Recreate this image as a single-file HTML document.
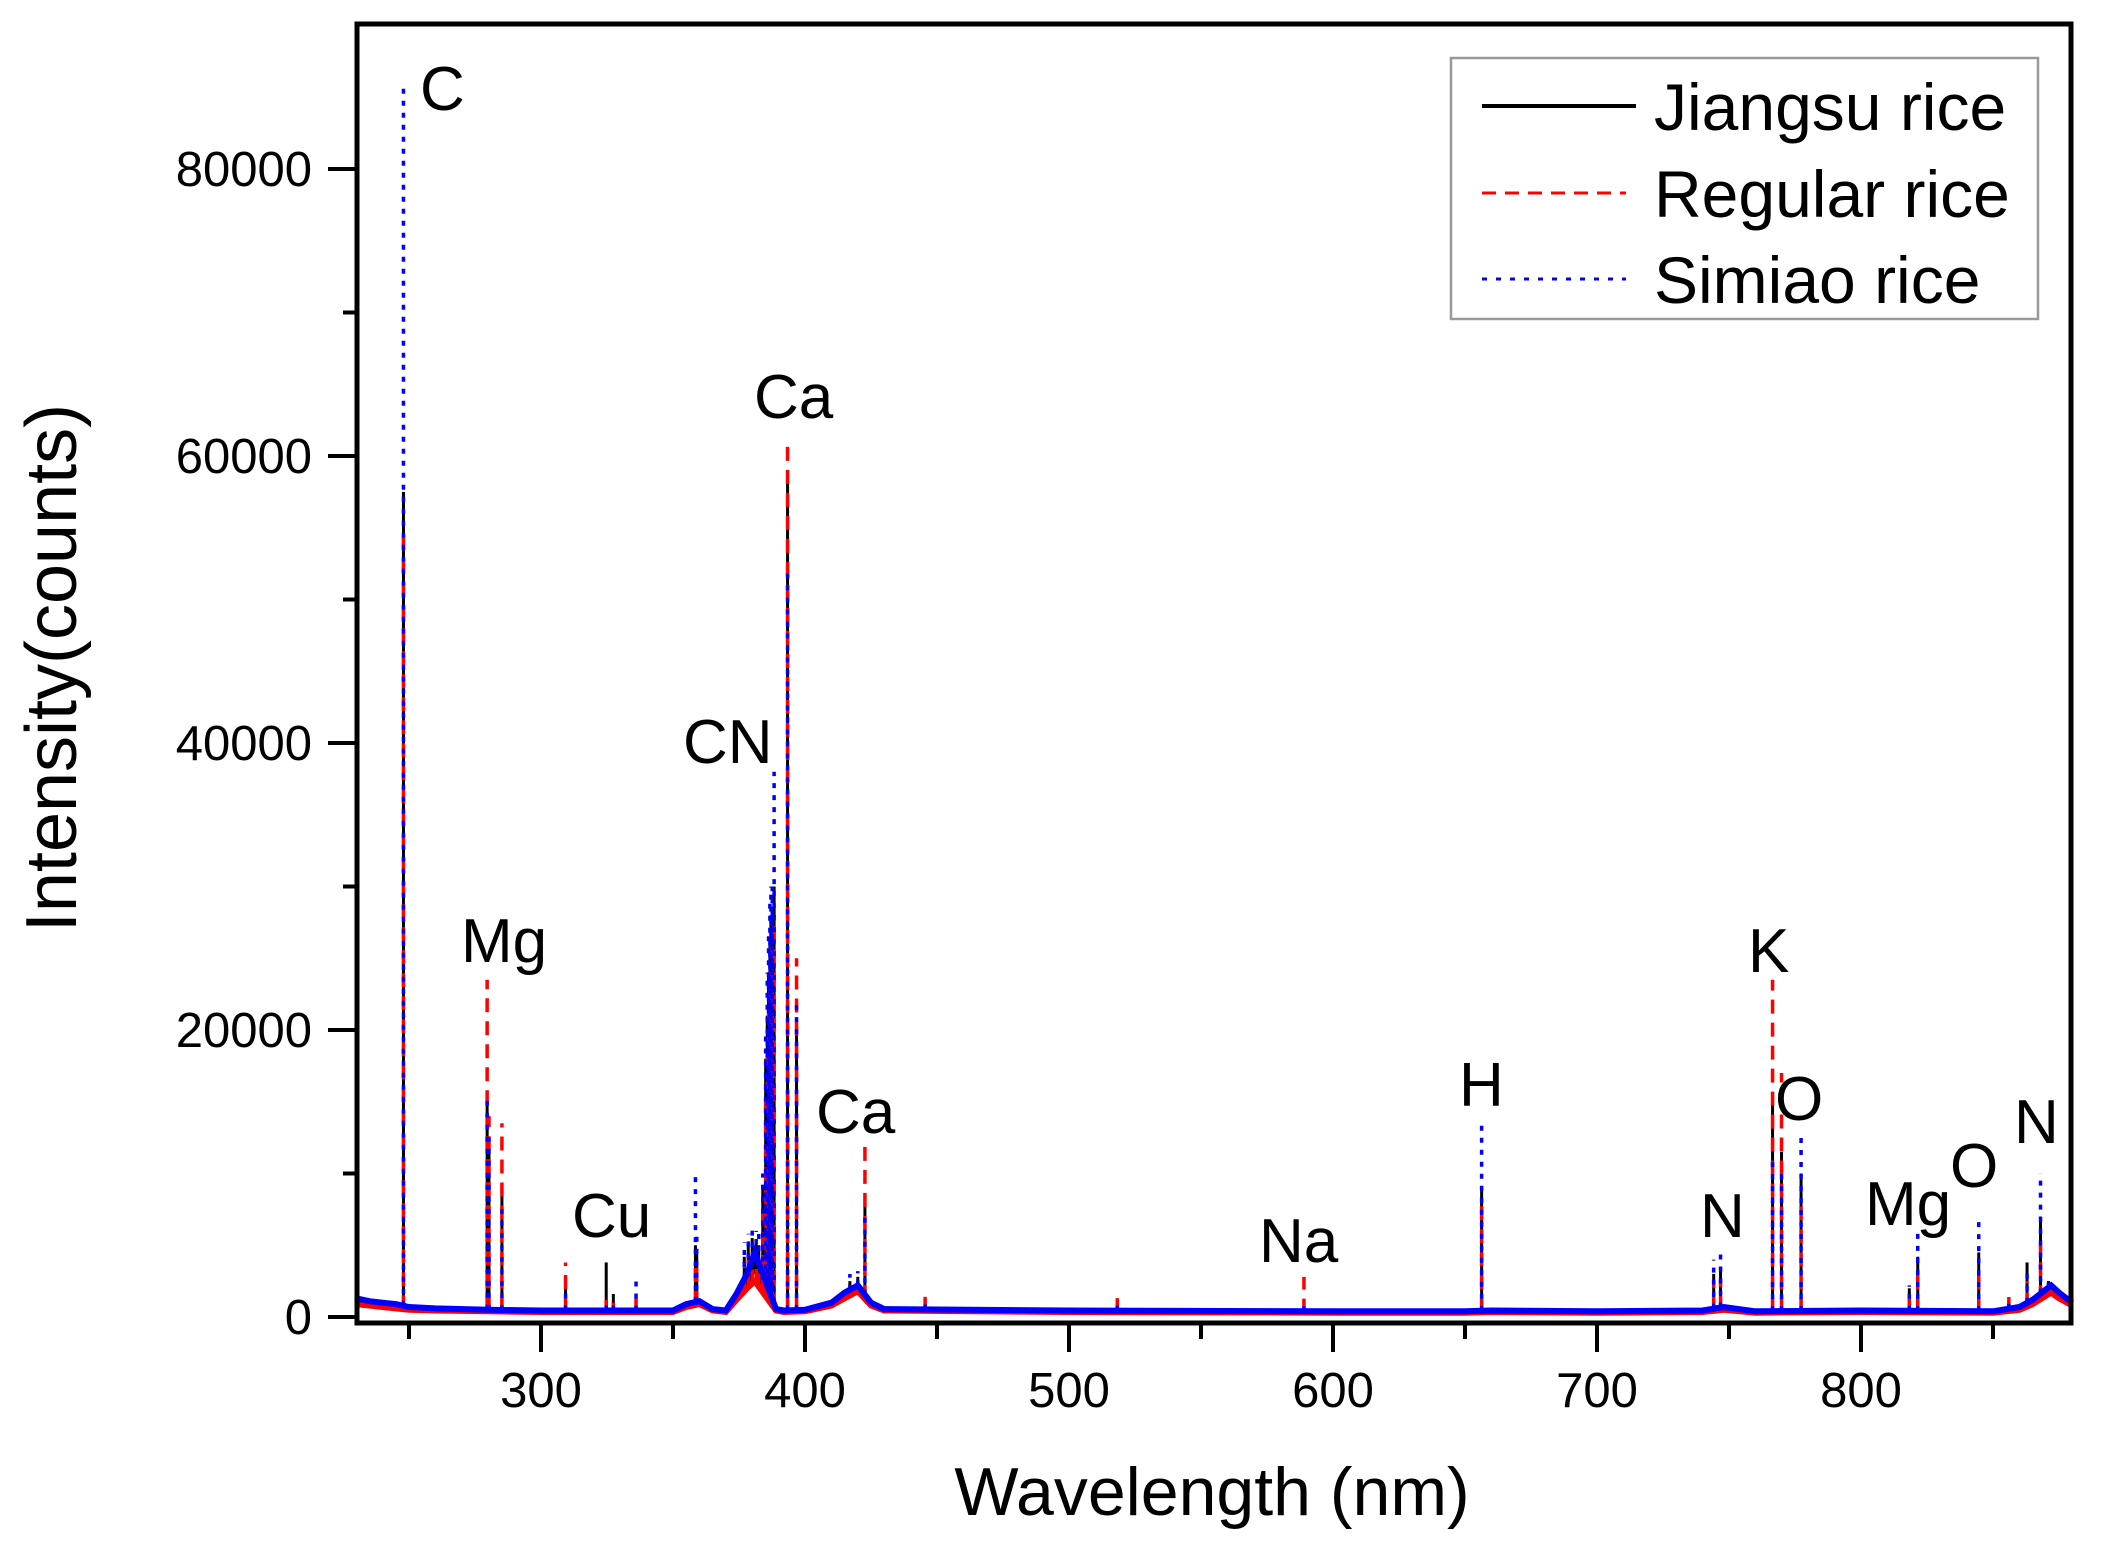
<!DOCTYPE html>
<html><head><meta charset="utf-8"><style>
html,body{margin:0;padding:0;background:#fff;}
svg{display:block;font-family:"Liberation Sans",Arial,sans-serif;}
</style></head><body>
<svg id="chart" width="2112" height="1559" viewBox="0 0 2112 1559" xmlns="http://www.w3.org/2000/svg">
<rect x="0" y="0" width="2112" height="1559" fill="#fff"/>
<g id="series"></g>
<g id="axes"></g>
<g id="labels"></g>
<g id="legend"></g>
</svg>
<script>
// ---- data ----
const xTicks = [300, 400, 500, 600, 700, 800];
const yTicks = [0, 20000, 40000, 60000, 80000];
const yTickLabels = ["0", "20000", "40000", "60000", "80000"];
// peak wavelengths (nm)
const peakWl = [247.9, 279.6, 280.3, 285.2, 309.3, 324.7, 327.4, 336.0, 358.5, 359.0, 377.0, 378.5, 380.0, 381.5, 382.5, 384.0, 385.1, 385.7, 386.2, 386.7, 387.1, 387.6, 388.3, 393.4, 396.8, 417.0, 420.0, 422.7, 445.5, 518.3, 589.0, 656.3, 744.2, 746.8, 766.5, 769.9, 777.3, 818.3, 821.5, 844.6, 856.0, 862.9, 868.0, 871.0];
// intensities per series (counts)
const jiangsu = [57500, 15000, 12000, 9000, 2000, 3800, 1600, 1200, 5000, 4500, 4200, 5000, 5500, 5200, 5000, 9000, 18000, 21000, 24000, 26000, 28000, 27000, 30000, 59000, 20000, 2500, 2800, 8000, 1200, 1000, 1200, 9000, 3000, 3500, 15000, 11500, 10000, 2000, 4200, 4500, 1200, 3800, 7000, 2500];
const regular = [55000, 23500, 14000, 13500, 3800, 1200, 1000, 1600, 4000, 3800, 3500, 4000, 4500, 4200, 4000, 8000, 16000, 19000, 22000, 24000, 26000, 25000, 28000, 61000, 25000, 2000, 2300, 12000, 1600, 1800, 2800, 8000, 2500, 2600, 23500, 17000, 8000, 1600, 3500, 3000, 1600, 2500, 5000, 2200];
const simiao = [86000, 15500, 12500, 8000, 2000, 1200, 1000, 2500, 9800, 6000, 5200, 5800, 6200, 6000, 6000, 10000, 20000, 24000, 27000, 29000, 30000, 30000, 38000, 52000, 22000, 3000, 3200, 7000, 1200, 1000, 1200, 13500, 4000, 4800, 11000, 10000, 12500, 2200, 6000, 7000, 1200, 3500, 10000, 2800];
// baseline levels (wl, counts)
const baseWl = [230, 235, 240, 245, 250, 260, 280, 300, 350, 355, 360, 365, 370, 374, 378, 381, 389, 392, 400, 410, 415, 420, 425, 430, 500, 600, 650, 660, 700, 740, 748, 760, 800, 850, 860, 865, 872, 875, 880];
const baseJ = [1100, 900, 800, 700, 600, 500, 450, 400, 400, 800, 1000, 500, 400, 1400, 2500, 3500, 500, 400, 450, 900, 1500, 2000, 900, 500, 400, 350, 350, 400, 350, 400, 600, 350, 400, 350, 600, 1000, 2000, 1500, 900];
const baseR = [900, 800, 700, 600, 500, 450, 400, 350, 350, 700, 900, 450, 350, 1200, 2000, 2500, 450, 350, 400, 800, 1300, 1800, 800, 450, 350, 300, 300, 350, 300, 350, 500, 300, 350, 300, 500, 900, 1700, 1300, 800];
const baseS = [1300, 1100, 1000, 900, 700, 600, 500, 450, 450, 900, 1100, 550, 450, 1600, 3000, 4500, 550, 450, 500, 1000, 1700, 2200, 1000, 550, 450, 400, 400, 450, 400, 450, 700, 400, 450, 400, 700, 1200, 2200, 1700, 1000];
const seriesNames = ["Jiangsu rice", "Regular rice", "Simiao rice"];
const peakNames = ["C","Mg","Cu","CN","Ca","Ca","Na","H","N","K","O","Mg","O","N"];

// ---- scales ----
const L=357, R=2071, T=24, B=1323;
const X = v => 541 + (v-300)*2.64;
const Y = v => 1317 - v*287/20000;
const NS="http://www.w3.org/2000/svg";
function mk(tag, parent){const e=document.createElementNS(NS,tag);parent.appendChild(e);return e;}

const gS=document.getElementById('series');
const styles=[{c:"#000",d:"none",w:3},{c:"#ff0000",d:"14,9",w:3.5},{c:"#0000ff",d:"5,7",w:3.5}];
const vals=[jiangsu,regular,simiao];
const bases=[baseJ,baseR,baseS];
function baseAt(b,wl){for(let i=0;i<baseWl.length-1;i++){if(wl>=baseWl[i]&&wl<=baseWl[i+1]){const t=(wl-baseWl[i])/(baseWl[i+1]-baseWl[i]);return b[i]+(b[i+1]-b[i])*t;}}return b[b.length-1];}
for(let s=0;s<3;s++){
  const g=mk('g',gS);
  
  
  let d="";
  baseWl.forEach((w,i)=>{d+=(i?"L":"M")+X(w).toFixed(1)+","+Y(bases[s][i]).toFixed(1);});
  const bl=mk('path',g);
  
  
  bl.setAttribute('d',d);bl.setAttribute('fill','none');bl.setAttribute('stroke',styles[s].c);bl.setAttribute('stroke-width',6);
  peakWl.forEach((w,i)=>{
    const p=mk('line',g);
    
    
    const x=X(w);
    p.setAttribute('x1',x);p.setAttribute('x2',x);
    p.setAttribute('y1',Y(baseAt(bases[s],w)));p.setAttribute('y2',Y(vals[s][i]));
    p.setAttribute('stroke',styles[s].c);p.setAttribute('stroke-width',styles[s].w);
    if(styles[s].d!=="none")p.setAttribute('stroke-dasharray',styles[s].d);
  });
}

// ---- axes ----
const gA=document.getElementById('axes');
const fr=mk('rect',gA);


fr.setAttribute('x',L);fr.setAttribute('y',T);fr.setAttribute('width',R-L);fr.setAttribute('height',B-T);
fr.setAttribute('fill','none');fr.setAttribute('stroke','#000');fr.setAttribute('stroke-width',5);
for(let v=250;v<=850;v+=50){
  const t=mk('line',gA);
  
  
  const major=xTicks.includes(v);
  t.setAttribute('x1',X(v));t.setAttribute('x2',X(v));t.setAttribute('y1',B);t.setAttribute('y2',B+(major?29:16));
  t.setAttribute('stroke','#000');t.setAttribute('stroke-width',4);
}
xTicks.forEach(v=>{
  const t=mk('text',gA);
  
  
  t.setAttribute('x',X(v));t.setAttribute('y',1407);t.setAttribute('text-anchor','middle');t.setAttribute('font-size',49);
  t.textContent=v;
});
for(let v=0;v<=80000;v+=10000){
  const t=mk('line',gA);
  
  
  const major=v%20000===0;
  t.setAttribute('x1',L);t.setAttribute('x2',L-(major?29:14));t.setAttribute('y1',Y(v));t.setAttribute('y2',Y(v));
  t.setAttribute('stroke','#000');t.setAttribute('stroke-width',4);
}
yTicks.forEach((v,i)=>{
  const t=mk('text',gA);
  
  
  t.setAttribute('x',312);t.setAttribute('y',Y(v)+17);t.setAttribute('text-anchor','end');t.setAttribute('font-size',49);
  t.textContent=yTickLabels[i];
});
const xt=mk('text',gA);


xt.setAttribute('x',1212);xt.setAttribute('y',1515);xt.setAttribute('text-anchor','middle');xt.setAttribute('font-size',68);
xt.textContent="Wavelength (nm)";
const yt=mk('text',gA);


yt.setAttribute('transform','translate(76,668) rotate(-90)');yt.setAttribute('text-anchor','middle');yt.setAttribute('font-size',72);
yt.textContent="Intensity(counts)";

// ---- peak labels ----
const gL=document.getElementById('labels');
const lblPos=[[420,110],[461,962],[572,1237],[683,763],[754,418],[816,1133],[1259,1262],[1459,1106],[1700,1237],[1748,972],[1775,1120],[1865,1225],[1950,1187],[2014,1143]];
peakNames.forEach((n,i)=>{
  const t=mk('text',gL);
  
  
  t.setAttribute('x',lblPos[i][0]);t.setAttribute('y',lblPos[i][1]);t.setAttribute('font-size',62);
  t.textContent=n;
});

// ---- legend ----
const gG=document.getElementById('legend');
const lb=mk('rect',gG);


lb.setAttribute('x',1451);lb.setAttribute('y',58);lb.setAttribute('width',587);lb.setAttribute('height',261);
lb.setAttribute('fill','#fff');lb.setAttribute('stroke','#999');lb.setAttribute('stroke-width',2.5);
const ly=[106,193,279];
seriesNames.forEach((n,i)=>{
  const l=mk('line',gG);
  
  
  l.setAttribute('x1',1482);l.setAttribute('x2',i===0?1636:1626);l.setAttribute('y1',ly[i]);l.setAttribute('y2',ly[i]);
  l.setAttribute('stroke',styles[i].c);l.setAttribute('stroke-width',i===0?4:3);
  if(i===1)l.setAttribute('stroke-dasharray','14,9');
  if(i===2)l.setAttribute('stroke-dasharray','5,9');
  const t=mk('text',gG);
  
  
  t.setAttribute('x',1654);t.setAttribute('y',ly[i]+24);t.setAttribute('font-size',66);
  t.textContent=n;
});
</script>
</body></html>
